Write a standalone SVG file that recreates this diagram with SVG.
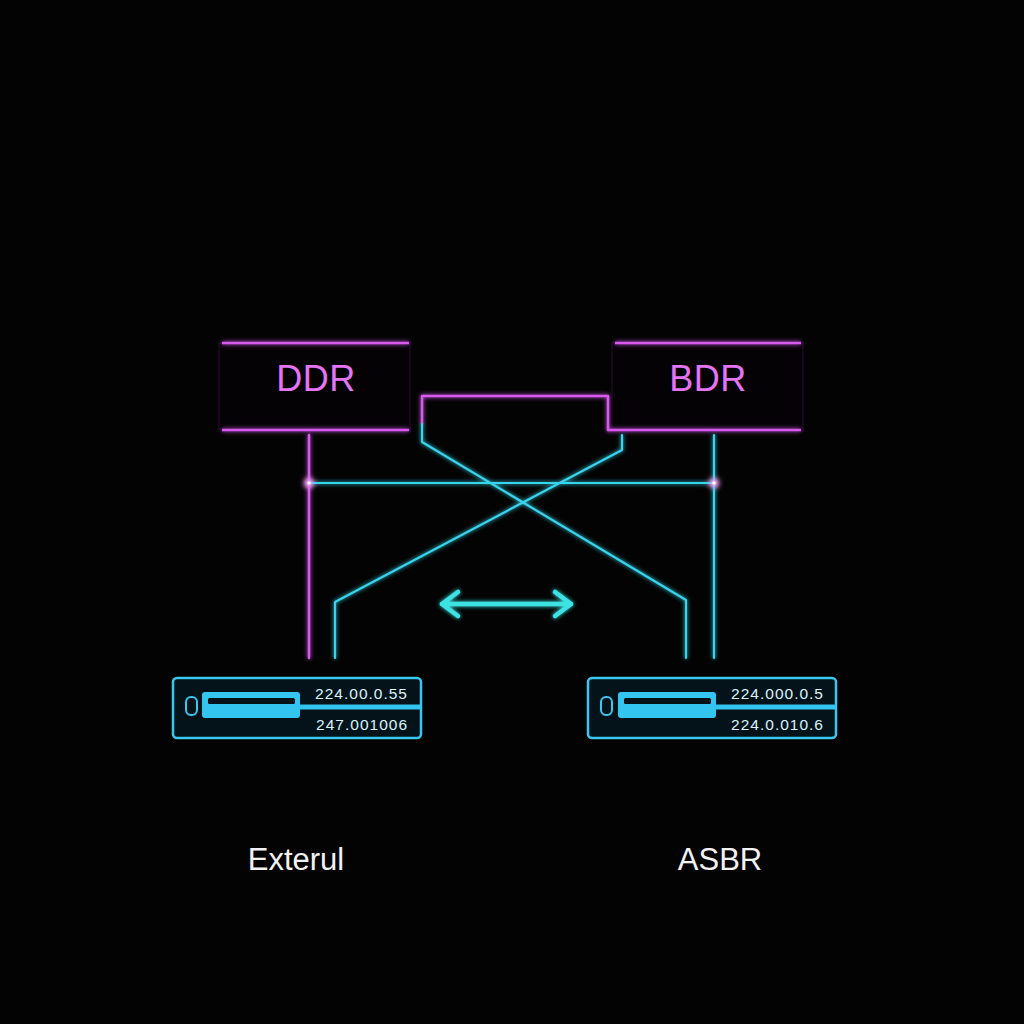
<svg xmlns="http://www.w3.org/2000/svg" width="1024" height="1024" viewBox="0 0 1024 1024">
<defs>
<filter id="glow" x="-20%" y="-20%" width="140%" height="140%">
<feGaussianBlur stdDeviation="2" result="b"/>
<feMerge><feMergeNode in="b"/><feMergeNode in="SourceGraphic"/></feMerge>
</filter>
<filter id="dotglow" x="-200%" y="-200%" width="500%" height="500%">
<feGaussianBlur stdDeviation="2.5"/>
</filter>
<style>
.mag{stroke:#d858f0;stroke-width:2.5;fill:none}
.cy{stroke:#38d4ec;stroke-width:2.2;fill:none}
.boxtxt{font-family:"Liberation Sans",Arial,sans-serif;font-size:36px;fill:#e474f4;text-anchor:middle;letter-spacing:0.5px}
.dev{fill:#04121a;stroke:#38c8f0;stroke-width:2.5}
.ip{font-family:"Liberation Sans",Arial,sans-serif;font-size:15.5px;fill:#d8f4fa;text-anchor:end;letter-spacing:1px}
.lbl{font-family:"Liberation Sans",Arial,sans-serif;font-size:31px;fill:#f2f2f2;text-anchor:middle}
</style>
</defs>
<rect width="1024" height="1024" fill="#030303"/>

<g id="connectors" filter="url(#glow)" stroke-linejoin="round" stroke-linecap="round">
<line class="mag" x1="309" y1="435" x2="309" y2="658"/>
<line class="cy" x1="714" y1="435" x2="714" y2="658"/>
<line class="cy" x1="309" y1="483" x2="714" y2="483"/>
<polyline class="mag" points="422,424 422,396 608,396 608,430"/>
<polyline class="cy" points="422,424 422,442 686,600 686,658"/>
<polyline class="cy" points="622,435 622,450 335,602 335,658"/>
<g stroke="#3ee2e2" stroke-width="4.5" fill="none" stroke-linecap="round" stroke-linejoin="round">
<line x1="442" y1="604" x2="571" y2="604"/>
<polyline points="458,592 442,604 458,616"/>
<polyline points="555,592 571,604 555,616"/>
</g>
<circle cx="309" cy="483" r="4" fill="#ff9cff" filter="url(#dotglow)"/>
<circle cx="309" cy="483" r="1.8" fill="#ffffff"/>
<circle cx="714" cy="483" r="4" fill="#ff9cff" filter="url(#dotglow)"/>
<circle cx="714" cy="483" r="1.8" fill="#ffffff"/>
</g>

<g id="ddr">
<rect x="219" y="343" width="191" height="87" fill="#050206" stroke="#1e0824" stroke-width="1.5"/>
<g filter="url(#glow)">
<line class="mag" x1="222" y1="343" x2="409" y2="343"/>
<line class="mag" x1="222" y1="430" x2="409" y2="430"/>
</g>
<text class="boxtxt" x="316" y="391">DDR</text>
</g>

<g id="bdr">
<rect x="612" y="343" width="191" height="87" fill="#050206" stroke="#1e0824" stroke-width="1.5"/>
<g filter="url(#glow)">
<line class="mag" x1="615" y1="343" x2="801" y2="343"/>
<line class="mag" x1="608" y1="430" x2="801" y2="430"/>
</g>
<text class="boxtxt" x="708" y="391">BDR</text>
</g>

<g id="device-left">
<rect class="dev" x="173" y="678" width="248" height="60" rx="4"/>
<rect x="186" y="697" width="11" height="18" rx="5" fill="none" stroke="#38c8f0" stroke-width="2"/>
<rect x="202" y="692" width="98" height="26" rx="3" fill="#34c4f0"/>
<rect x="208" y="698" width="87" height="6" rx="1.5" fill="#04121a"/>
<rect x="298" y="704.5" width="123" height="5" fill="#34c4f0"/>
<text class="ip" x="408" y="699">224.00.0.55</text>
<text class="ip" x="408" y="730">247.001006</text>
</g>

<g id="device-right">
<rect class="dev" x="588" y="678" width="248" height="60" rx="4"/>
<rect x="601" y="697" width="11" height="18" rx="5" fill="none" stroke="#38c8f0" stroke-width="2"/>
<rect x="618" y="692" width="98" height="26" rx="3" fill="#34c4f0"/>
<rect x="624" y="698" width="87" height="6" rx="1.5" fill="#04121a"/>
<rect x="714" y="704.5" width="122" height="5" fill="#34c4f0"/>
<text class="ip" x="824" y="699">224.000.0.5</text>
<text class="ip" x="824" y="730">224.0.010.6</text>
</g>

<g id="label-external">
<text class="lbl" x="296" y="870">Exterul</text>
</g>
<g id="label-asbr">
<text class="lbl" x="720" y="870">ASBR</text>
</g>
</svg>
